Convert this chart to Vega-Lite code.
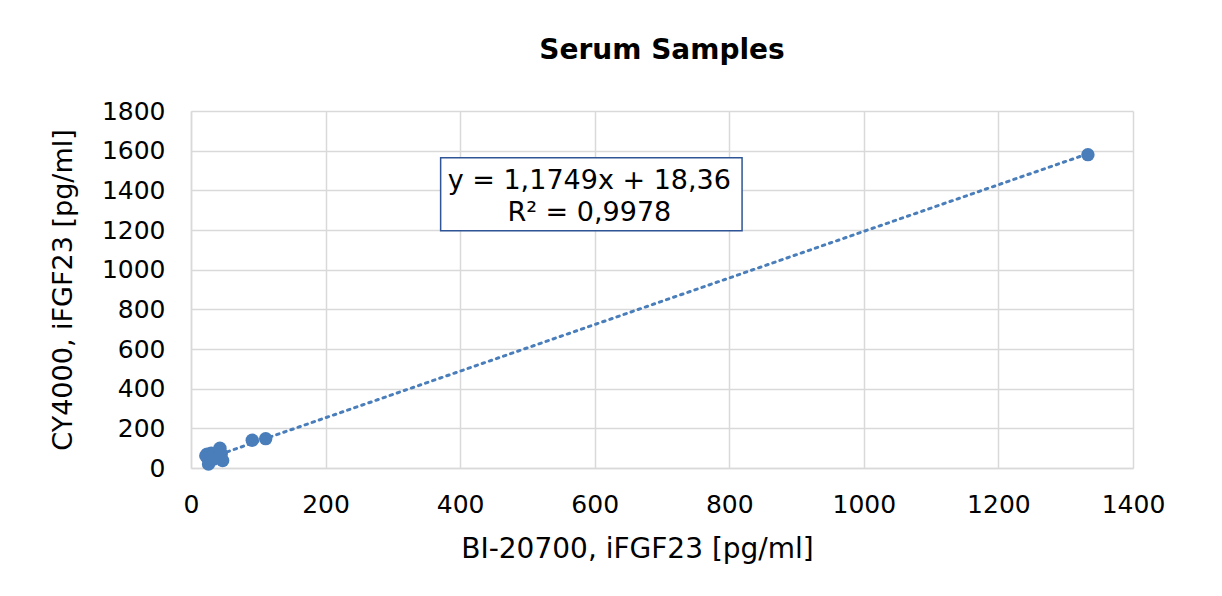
{
  "$schema": "https://vega.github.io/schema/vega-lite/v6.json",
  "autosize": {"type": "none"},
  "width": 942,
  "height": 357,
  "padding": {"left": 191, "top": 111, "right": 89, "bottom": 128},
  "background": "white",
  "config": {
    "font": "DejaVu Sans",
    "view": {"stroke": null},
    "axis": {"labelFont": "DejaVu Sans", "titleFont": "DejaVu Sans", "labelColor": "#000000", "titleColor": "#000000", "titleFontWeight": "normal", "gridColor": "#D9D9D9", "gridWidth": 1.5, "domainColor": "#D9D9D9", "domainWidth": 1.5, "ticks": false, "labelFlush": false, "labelOverlap": false, "format": "d"}
  },
  "title": {"text": "Serum Samples", "font": "DejaVu Sans", "fontSize": 28, "fontWeight": "bold", "color": "#000000", "anchor": "middle", "offset": 34},
  "datasets": {
    "points": [
      {"x": 22, "y": 62},
      {"x": 24, "y": 70},
      {"x": 25, "y": 48},
      {"x": 26, "y": 20},
      {"x": 27, "y": 55},
      {"x": 28, "y": 35},
      {"x": 30, "y": 75},
      {"x": 32, "y": 60},
      {"x": 34, "y": 45},
      {"x": 36, "y": 68},
      {"x": 40, "y": 55},
      {"x": 43, "y": 100},
      {"x": 45, "y": 72},
      {"x": 47, "y": 38},
      {"x": 91, "y": 140},
      {"x": 111, "y": 148},
      {"x": 1333, "y": 1580}
    ],
    "trend": [
      {"x": 22, "y": 44.2},
      {"x": 1333, "y": 1584.5}
    ],
    "box": [
      {"x": 371, "x2": 819, "y": 1196, "y2": 1564}
    ],
    "labels": [
      {"x": 592, "y": 1445, "t": "y = 1,1749x + 18,36"},
      {"x": 592, "y": 1288, "t": "R² = 0,9978"}
    ]
  },
  "encoding": {
    "x": {"field": "x", "type": "quantitative", "scale": {"domain": [0, 1400], "nice": false}, "axis": {"values": [0, 200, 400, 600, 800, 1000, 1200, 1400], "title": "BI-20700, iFGF23 [pg/ml]", "labelFontSize": 25, "titleFontSize": 28, "labelPadding": 24, "titlePadding": 18, "titleX": 446, "labelOverlap": false, "labelFlush": false, "format": "d", "grid": true}},
    "y": {"field": "y", "type": "quantitative", "scale": {"domain": [0, 1800], "nice": false}, "axis": {"values": [0, 200, 400, 600, 800, 1000, 1200, 1400, 1600, 1800], "title": "CY4000, iFGF23 [pg/ml]", "labelFontSize": 25, "titleFontSize": 27, "labelPadding": 26, "titlePadding": 24, "labelOverlap": false, "labelSeparation": 0, "labelFlush": false, "format": "d", "grid": true}}
  },
  "layer": [
    {
      "data": {"name": "points"},
      "mark": {"type": "circle", "size": 180, "color": "#4A7EBB", "opacity": 1}
    },
    {
      "data": {"name": "trend"},
      "mark": {"type": "line", "color": "#4A7EBB", "strokeWidth": 3, "strokeDash": [2.5, 5], "strokeCap": "round"}
    },
    {
      "data": {"name": "box"},
      "mark": {"type": "rect", "fill": "white", "stroke": "#2F5597", "strokeWidth": 1.5},
      "encoding": {
        "x2": {"field": "x2"},
        "y2": {"field": "y2"}
      }
    },
    {
      "data": {"name": "labels"},
      "mark": {"type": "text", "fontSize": 27, "color": "#000000", "align": "center", "baseline": "middle"},
      "encoding": {
        "text": {"field": "t"}
      }
    }
  ]
}
